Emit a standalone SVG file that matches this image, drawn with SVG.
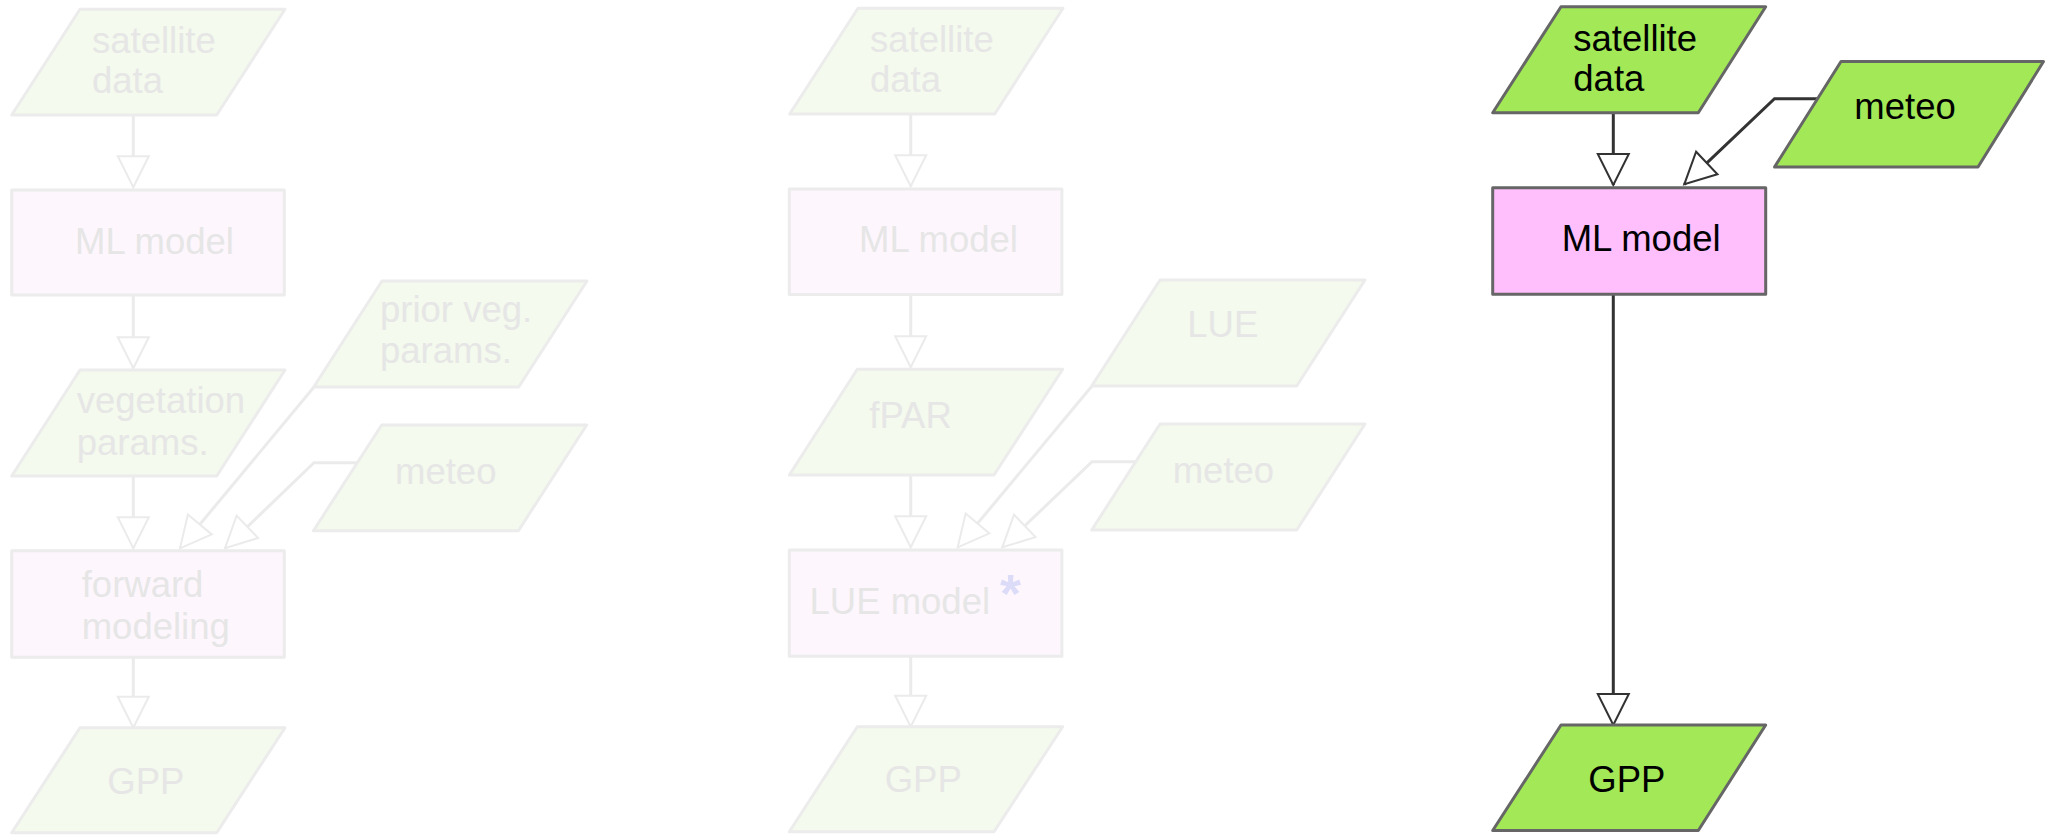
<svg xmlns="http://www.w3.org/2000/svg" width="2045" height="835" viewBox="0 0 2045 835">
  <style>
    text { font-family: "Liberation Sans", Arial, sans-serif; font-size: 36.5px; }
    .shape { stroke-width: 3; stroke-linejoin: round; }
    .io { fill: #a2e857; stroke: #666666; }
    .proc { fill: #ffbefc; stroke: #666666; }
    .io-dim { fill: #f4faed; stroke: #ececec; }
    .proc-dim { fill: #fdf6fd; stroke: #ececec; }
    .label { fill: #000000; }
    .label-dim { fill: #e6e6e6; }
    .edge { fill: none; stroke: #333333; stroke-width: 3; marker-end: url(#arrow); }
    .edge-dim { fill: none; stroke: #ebebeb; stroke-width: 3; marker-end: url(#arrow-dim); }
    .star { font-size: 54px; font-weight: bold; fill: #dcdcf8; }
  </style>
  <defs>
    <marker id="arrow" markerUnits="userSpaceOnUse" viewBox="-3 -19 38 38" markerWidth="38" markerHeight="38" refX="31" refY="0" orient="auto" overflow="visible">
      <path d="M0,-15.5 L31,0 L0,15.5 Z" fill="#ffffff" stroke="#333333" stroke-width="2" stroke-linejoin="miter"/>
    </marker>
    <marker id="arrow-dim" markerUnits="userSpaceOnUse" viewBox="-3 -19 38 38" markerWidth="38" markerHeight="38" refX="31" refY="0" orient="auto" overflow="visible">
      <path d="M0,-15.5 L31,0 L0,15.5 Z" fill="#ffffff" stroke="#ebebeb" stroke-width="2" stroke-linejoin="miter"/>
    </marker>
  </defs>

  <rect x="0" y="0" width="2045" height="835" fill="#ffffff"/>

  <!-- Variant A: ML model predicts vegetation parameters, then forward modeling -->
  <g id="connectors-a">
    <path class="edge-dim" d="M133.3,115 V187.3"/>
    <path class="edge-dim" d="M133.3,295 V368.3"/>
    <path class="edge-dim" d="M133.3,476 V548.3"/>
    <path class="edge-dim" d="M133.3,657.3 V727.7"/>
    <path class="edge-dim" d="M314,387 L180,548.3"/>
    <path class="edge-dim" d="M357.3,462.7 H314 L225,548.3"/>
  </g>
  <g id="a-satellite">
    <polygon class="shape io-dim" points="80,9.3 285,9.3 216.7,115 11.7,115"/>
    <text class="label-dim"><tspan x="92" y="53">satellite</tspan><tspan x="92" y="93">data</tspan></text>
  </g>
  <g id="a-ml-model">
    <rect class="shape proc-dim" x="11.7" y="190" width="272.6" height="105"/>
    <text class="label-dim" x="75" y="254">ML model</text>
  </g>
  <g id="a-vegetation">
    <polygon class="shape io-dim" points="80,370 285,370 216.7,476 11.7,476"/>
    <text class="label-dim"><tspan x="76.7" y="413.3">vegetation</tspan><tspan x="76.7" y="455">params.</tspan></text>
  </g>
  <g id="a-prior">
    <polygon class="shape io-dim" points="382,281 587,281 518.7,387 313.7,387"/>
    <text class="label-dim"><tspan x="380" y="321.7">prior veg.</tspan><tspan x="380" y="363.3">params.</tspan></text>
  </g>
  <g id="a-meteo">
    <polygon class="shape io-dim" points="381.7,425 586.7,425 518.4,530.7 313.4,530.7"/>
    <text class="label-dim" x="395" y="484">meteo</text>
  </g>
  <g id="a-forward">
    <rect class="shape proc-dim" x="11.7" y="550.7" width="272.6" height="106.6"/>
    <text class="label-dim"><tspan x="81.7" y="596.7">forward</tspan><tspan x="81.7" y="639">modeling</tspan></text>
  </g>
  <g id="a-gpp">
    <polygon class="shape io-dim" points="80,727.7 285,727.7 216.7,832.7 11.7,832.7"/>
    <text class="label-dim" x="107.3" y="794.3">GPP</text>
  </g>

  <!-- Variant B: ML model predicts fPAR, then LUE model -->
  <g id="connectors-b">
    <path class="edge-dim" d="M910.7,114 V186.3"/>
    <path class="edge-dim" d="M910.7,294.5 V367.3"/>
    <path class="edge-dim" d="M910.7,475 V547.3"/>
    <path class="edge-dim" d="M910.7,656.3 V726.7"/>
    <path class="edge-dim" d="M1092,386 L957.7,547.3"/>
    <path class="edge-dim" d="M1135,461.7 H1092 L1002.3,547.3"/>
  </g>
  <g id="b-satellite">
    <polygon class="shape io-dim" points="858,8.3 1063,8.3 994.7,114 789.7,114"/>
    <text class="label-dim"><tspan x="870" y="52">satellite</tspan><tspan x="870" y="92">data</tspan></text>
  </g>
  <g id="b-ml-model">
    <rect class="shape proc-dim" x="789.3" y="189" width="272.6" height="105.5"/>
    <text class="label-dim" x="859" y="252">ML model</text>
  </g>
  <g id="b-fpar">
    <polygon class="shape io-dim" points="857.3,369.3 1062.7,369.3 994,475 789.3,475"/>
    <text class="label-dim" x="869.3" y="428.3">fPAR</text>
  </g>
  <g id="b-lue">
    <polygon class="shape io-dim" points="1160,280 1365,280 1296.7,386 1091.7,386"/>
    <text class="label-dim" x="1187.3" y="337.3">LUE</text>
  </g>
  <g id="b-meteo">
    <polygon class="shape io-dim" points="1160,424 1365,424 1296.7,530 1091.7,530"/>
    <text class="label-dim" x="1172.7" y="483.3">meteo</text>
  </g>
  <g id="b-lue-model">
    <rect class="shape proc-dim" x="789.3" y="550" width="272.6" height="106.3"/>
    <text class="label-dim" x="809.5" y="614">LUE model</text>
    <text class="star" x="1000" y="612">*</text>
  </g>
  <g id="b-gpp">
    <polygon class="shape io-dim" points="857.3,726.7 1062.7,726.7 994,831.7 789.3,831.7"/>
    <text class="label-dim" x="884.7" y="792.3">GPP</text>
  </g>

  <!-- Variant C: ML model predicts GPP directly -->
  <g id="connectors-c">
    <path class="edge" d="M1613.3,112.7 V185"/>
    <path class="edge" d="M1613.3,294.3 V725"/>
    <path class="edge" d="M1818.3,98.7 H1774.5 L1684.3,184.3"/>
  </g>
  <g id="c-satellite">
    <polygon class="shape io" points="1561,6.7 1765.7,6.7 1698.3,112.7 1492.7,112.7"/>
    <text class="label"><tspan x="1573.3" y="50.5">satellite</tspan><tspan x="1573.3" y="91">data</tspan></text>
  </g>
  <g id="c-meteo">
    <polygon class="shape io" points="1841,61.5 2043.5,61.5 1978,167 1774.5,167"/>
    <text class="label" x="1854.3" y="119.3">meteo</text>
  </g>
  <g id="c-ml-model">
    <rect class="shape proc" x="1492.7" y="187.7" width="273" height="106.6"/>
    <text class="label" x="1561.7" y="250.5">ML model</text>
  </g>
  <g id="c-gpp">
    <polygon class="shape io" points="1561,725 1765.7,725 1698.3,830.5 1492.7,830.5"/>
    <text class="label" x="1588.3" y="791.5">GPP</text>
  </g>
</svg>
